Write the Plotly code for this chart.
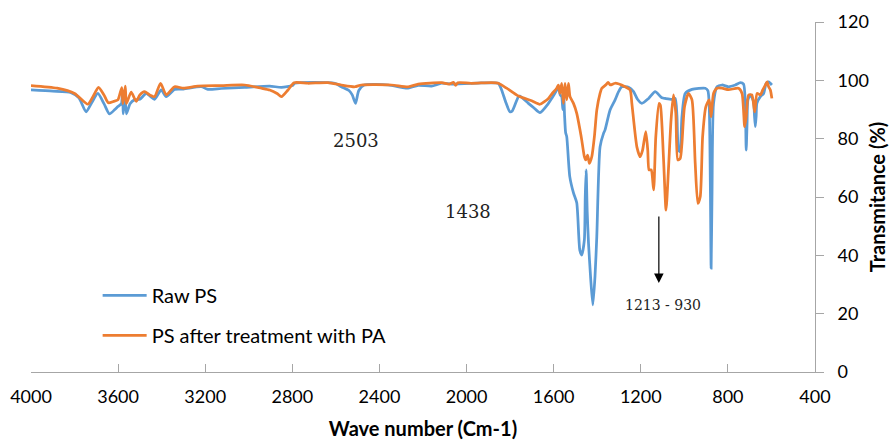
import plotly.graph_objects as go

# ---- data ----
raw_wn = [4000, 3900, 3816, 3780, 3747, 3720, 3693, 3665, 3640, 3615, 3601, 3585, 3580, 3576, 3568, 3562,
          3545, 3525, 3500, 3471, 3452, 3433, 3402, 3379, 3341, 3300, 3218, 3188, 3126, 3019, 2904, 2850,
          2800, 2789, 2605, 2575, 2540, 2525, 2510, 2495, 2470, 2360, 2299, 2268, 2222, 2161, 2115, 2069,
          1931, 1885, 1854, 1839, 1820, 1801, 1790, 1762, 1755, 1716, 1690, 1663, 1624, 1609, 1586, 1578,
          1570, 1563, 1558, 1554, 1550, 1545, 1540, 1526, 1509, 1494, 1480, 1471, 1459, 1455, 1451, 1446,
          1440, 1430, 1420, 1410, 1402, 1387, 1371, 1364, 1341, 1318, 1302, 1287, 1256, 1233, 1215, 1195,
          1164, 1134, 1103, 1088, 1057, 1042, 1034, 1027, 1020, 1011, 996, 965, 904, 892, 886, 880, 877,
          873, 866, 850, 827, 797, 766, 743, 728, 720, 716, 712, 708, 697, 682, 678, 674, 670, 667, 651,
          636, 624, 613, 598]
raw_t = [96.7, 96.3, 95.8, 94.0, 89.2, 92.5, 95.5, 92.0, 88.5, 90.0, 91.0, 92.0, 96.5, 88.5, 96.5, 88.5,
         92.0, 93.3, 93.5, 95.5, 94.5, 93.5, 96.7, 94.4, 96.9, 97.0, 97.8, 96.9, 97.2, 97.6, 98.0, 97.6,
         98.2, 99.0, 99.0, 97.8, 96.5, 95.0, 92.1, 96.5, 98.4, 98.4, 97.6, 97.3, 98.3, 98.0, 99.0, 98.7,
         99.1, 99.1, 99.0, 96.7, 92.5, 89.2, 89.5, 94.4, 94.6, 92.1, 90.5, 88.9, 92.1, 93.8, 96.7, 97.8,
         95.0, 94.4, 90.0, 95.5, 88.0, 82.0, 80.7, 67.0, 61.4, 58.0, 41.8, 40.1, 45.3, 60.0, 69.3, 55.0,
         44.2, 32.0, 23.0, 33.0, 46.4, 77.2, 81.8, 83.0, 89.8, 93.3, 96.1, 97.8, 97.6, 96.1, 93.5, 92.1,
         93.8, 96.1, 94.0, 93.8, 93.5, 93.8, 88.0, 76.1, 75.5, 87.5, 95.5, 96.9, 97.3, 96.5, 92.0, 60.0, 35.6,
         60.0, 92.0, 97.8, 98.4, 97.8, 98.4, 99.2, 98.7, 92.1, 76.1, 85.0, 93.3, 95.0, 92.7, 88.0, 84.1, 88.0, 92.1, 94.4,
         95.5, 99.0, 99.5, 98.4]

pa_wn = [4000, 3880, 3800, 3739, 3715, 3690, 3665, 3645, 3620, 3601, 3583, 3578, 3567, 3562, 3540, 3517,
         3500, 3479, 3455, 3433, 3405, 3379, 3341, 3300, 3234, 3126, 3019, 2942, 2904, 2870, 2850, 2820,
         2792, 2728, 2636, 2575, 2513, 2483, 2345, 2268, 2222, 2115, 2080, 2060, 2050, 2040, 1980, 1885,
         1854, 1816, 1762, 1701, 1663, 1624, 1609, 1586, 1578, 1571, 1563, 1555, 1548, 1540, 1532, 1525,
         1509, 1494, 1479, 1471, 1459, 1453, 1444, 1436, 1425, 1413, 1402, 1387, 1379, 1360, 1350, 1340,
         1318, 1272, 1249, 1241, 1218, 1203, 1192, 1177, 1168, 1162, 1152, 1141, 1131, 1116, 1110, 1096,
         1084, 1073, 1061, 1050, 1039, 1030, 1019, 1011, 999, 981, 965, 950, 938, 927, 916, 901, 886,
         877, 866, 850, 827, 797, 751, 735, 723, 716, 705, 690, 677, 666, 651, 640, 628, 620, 613, 605, 598]
pa_t = [98.2, 97.3, 95.5, 91.8, 94.5, 97.6, 95.0, 92.3, 92.8, 93.3, 97.5, 92.0, 98.0, 92.0, 96.0, 92.8,
        95.0, 96.1, 95.0, 94.4, 99.0, 95.0, 97.8, 97.3, 98.0, 98.2, 98.4, 97.3, 96.7, 95.5, 94.4, 96.7,
        99.2, 99.0, 99.2, 98.4, 97.8, 98.4, 98.4, 97.8, 98.7, 99.2, 98.7, 99.3, 98.3, 99.2, 99.0, 99.2,
        99.0, 97.3, 94.6, 93.0, 91.8, 93.8, 95.3, 97.3, 98.4, 95.5, 99.0, 92.1, 99.0, 93.3, 99.0, 94.4,
        92.1, 88.7, 83.0, 79.5, 73.8, 72.7, 74.4, 71.5, 73.8, 80.7, 89.8, 95.5, 97.3, 98.5, 99.3, 98.4,
        99.0, 97.8, 96.7, 92.1, 77.2, 73.8, 76.0, 82.4, 76.1, 69.3, 69.3, 62.4, 80.7, 92.1, 91.5, 73.8,
        55.5, 69.3, 86.4, 95.0, 88.7, 72.7, 73.2, 78.4, 91.0, 95.5, 93.3, 71.5, 57.8, 60.1, 80.7, 91.0, 93.3,
        87.5, 95.5, 97.3, 97.3, 96.8, 97.3, 95.5, 84.1, 87.5, 95.0, 95.0, 89.2, 95.5, 95.0, 96.7, 98.4, 99.5, 97.8, 96.7, 93.8]

x_ticks = [4000, 3600, 3200, 2800, 2400, 2000, 1600, 1200, 800, 400]
y_ticks = [0, 20, 40, 60, 80, 100, 120]

series_names = ["Raw PS", "PS after treatment with PA"]
peak_labels = ["2503", "1438", "1213 - 930"]
peak_pos_wn = [2506, 1995, 1099]
peak_pos_t = [79.5, 54.9, 23.0]
arrow_wn = 1117
arrow_from_t = 53.8
arrow_to_t = 30.5

BLUE = "#5B9BD5"
ORANGE = "#ED7D31"
AXIS = "#A6A6A6"
FONT = "Lato"
SERIF = "DejaVu Serif"

fig = go.Figure()
fig.add_trace(go.Scatter(x=raw_wn, y=raw_t, mode="lines", name=series_names[0],
                         line=dict(color=BLUE, width=2.75, shape="spline", smoothing=0.6),
                         legendgroup="a"))
fig.add_trace(go.Scatter(x=pa_wn, y=pa_t, mode="lines", name=series_names[1],
                         line=dict(color=ORANGE, width=2.75, shape="spline", smoothing=0.6),
                         legendgroup="b"))

for txt, xw, yt, sz in zip(peak_labels, peak_pos_wn, peak_pos_t, [18, 18, 14]):
    fig.add_annotation(x=xw, y=yt, text=txt, showarrow=False,
                       font=dict(family=SERIF, size=sz, color="#222222"))

fig.add_annotation(x=arrow_wn, y=arrow_to_t, ax=arrow_wn, ay=arrow_from_t,
                   xref="x", yref="y", axref="x", ayref="y", text="",
                   showarrow=True, arrowhead=2, arrowsize=1.6, arrowwidth=1.2,
                   arrowcolor="#000000", standoff=0)

fig.update_layout(
    width=889, height=441,
    margin=dict(l=31, r=74, t=22, b=69),
    paper_bgcolor="white", plot_bgcolor="white",
    font=dict(family=FONT, size=18, color="#000000"),
    showlegend=True,
    legend=dict(x=0.085, y=0.275, xanchor="left", yanchor="top",
                bgcolor="rgba(0,0,0,0)", font=dict(size=20, family=FONT),
                tracegroupgap=11, traceorder="grouped", itemwidth=44),
    xaxis=dict(range=[4000, 400], tickmode="array", tickvals=x_ticks,
               ticktext=[str(v) for v in x_ticks], automargin=False,
               showline=True, linecolor=AXIS, linewidth=1,
               ticks="inside", ticklen=8, tickcolor=AXIS, ticklabelstandoff=8,
               showgrid=False, zeroline=False,
               title=dict(text="<b>Wave number (Cm-1)</b>", font=dict(size=20, family=FONT), standoff=16)),
    yaxis=dict(range=[0, 120], tickmode="array", tickvals=y_ticks, side="right",
               automargin=False,
               showline=True, linecolor=AXIS, linewidth=1,
               ticks="outside", ticklen=8, tickcolor=AXIS, ticklabelstandoff=10,
               showgrid=False, zeroline=False,
               title=dict(text="<b>Transmitance (%)</b>", font=dict(size=20, family=FONT), standoff=8)),
)

fig.write_html("out.html")
